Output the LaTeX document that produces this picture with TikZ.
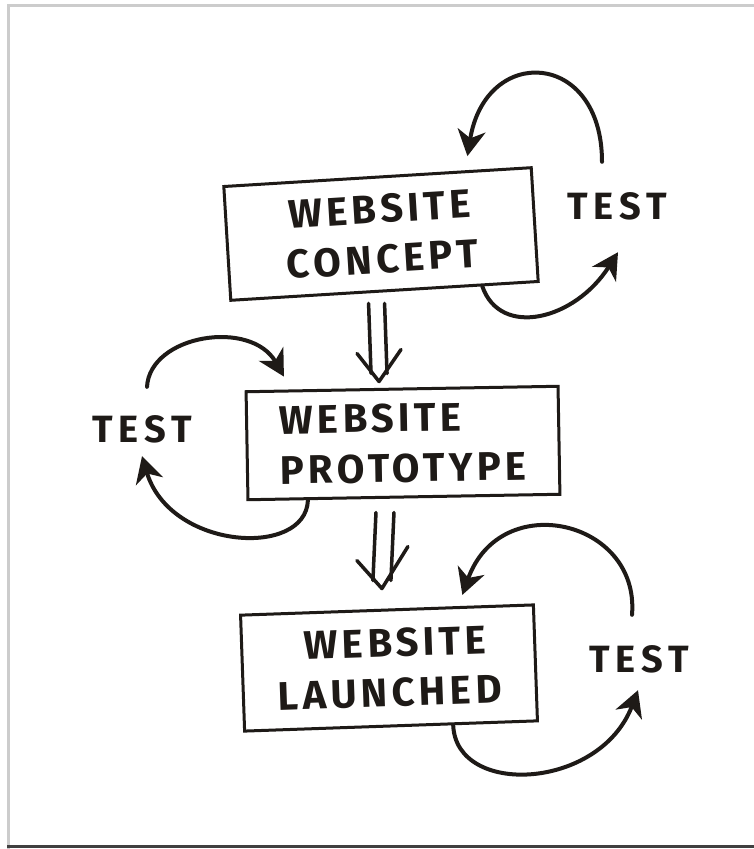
\documentclass[tikz,border=0pt]{standalone}
\usepackage{fontspec}
\newfontfamily\hand{Fira Sans}[LetterSpace=11]
\newfontfamily\handtest{Fira Sans}[LetterSpace=16]
\usetikzlibrary{arrows.meta,calc}
\definecolor{ink}{HTML}{1E1A17}
\definecolor{framelight}{HTML}{CCCCCC}
\definecolor{framedark}{HTML}{404040}
\begin{document}
\begin{tikzpicture}[x=1pt,y=-1pt,
  stage/.style={draw=ink, text=ink, line width=3pt, inner sep=0pt,
    font=\hand\bfseries\fontsize{40}{50}\selectfont},
  testlbl/.style={text=ink, inner sep=2pt, text height=28pt, text depth=0pt,
    font=\handtest\bfseries\fontsize{38}{40}\selectfont},
  loop/.style={draw=ink, line width=4pt, line cap=round,
    -{Stealth[length=26pt,width=28pt,inset=8pt]}},
  flowline/.style={draw=ink, line width=3.5pt, line cap=round, line join=round}
]
\useasboundingbox (0,0) rectangle (754,849);
\fill[white] (0,0) rectangle (754,849);
% frame
\draw[framelight, line width=3pt] (8,849) -- (8,5) -- (754,5);
\draw[framedark, line width=3pt] (7,846) -- (754,846);

% stages
\node[stage, rotate=3.5, minimum width=308pt, minimum height=114pt, align=center]
  (c) at (381,234) {WEBSITE\\CONCEPT};
\node[stage, rotate=1, minimum width=312pt, minimum height=108pt, align=left]
  (p) at (403,443) {WEBSITE\\PROTOTYPE};
\node[stage, rotate=2, minimum width=293pt, minimum height=116pt, align=center]
  (l) at (389,668) {\ WEBSITE\\LAUNCHED};

% test labels
\node[testlbl] (t1) at (617,205) {TEST};
\node[testlbl] (t2) at (142,428) {TEST};
\node[testlbl] (t3) at (639,658) {TEST};

% flow arrows (hand-drawn double arrows)
\coordinate (f1s) at ($(c.south)+(-8,11)$);
\coordinate (f1e) at ($(p.north)+(-23,-6)$);
\draw[flowline] ($(f1s)+(-8,0)$) -- ($(f1e)+(-8,-8)$);
\draw[flowline] ($(f1s)+(8,0)$) -- ($(f1e)+(8,-8)$);
\draw[flowline] ($(f1e)+(-22,-28)$) -- (f1e) -- ($(f1e)+(22,-32)$);

\coordinate (f2s) at ($(p.south)+(-19,14)$);
\coordinate (f2e) at ($(l.north)+(-5,-20)$);
\draw[flowline] ($(f2s)+(-9,0)$) -- ($(f2e)+(-9,-8)$);
\draw[flowline] ($(f2s)+(9,0)$) -- ($(f2e)+(9,-8)$);
\draw[flowline] ($(f2e)+(-25,-28)$) -- (f2e) -- ($(f2e)+(26,-42)$);

% loop 1 (concept)
\draw[loop] ($(c.south)!0.63!(c.south east)$)
  .. controls +(18,52) and +(-43,68) .. ($(t1.south)+(1,31)$);
\draw[loop] ($(t1.north)+(-15,-27)$)
  .. controls +(0,-112) and +(18,-112) .. ($(c.north)!0.58!(c.north east)+(0,-14)$);

% loop 2 (prototype)
\draw[loop] ($(p.south west)!0.39!(p.south)$)
  .. controls +(-2,58) and +(28,94) .. ($(t2.south)+(0,12)$);
\draw[loop] ($(t2.north)+(5,-25)$)
  .. controls +(3,-52) and +(-33,-58) .. ($(p.north west)!0.25!(p.north)+(0,-13)$);

% loop 3 (launched)
\draw[loop] ($(l.south)!0.42!(l.south east)$)
  .. controls +(3,72) and +(-38,100) .. ($(t3.south)+(-1,16)$);
\draw[loop] ($(t3.north)+(-7,-27)$)
  .. controls +(8,-95) and +(38,-107) .. ($(l.north)!0.51!(l.north east)+(0,-11)$);
\end{tikzpicture}
\end{document}
